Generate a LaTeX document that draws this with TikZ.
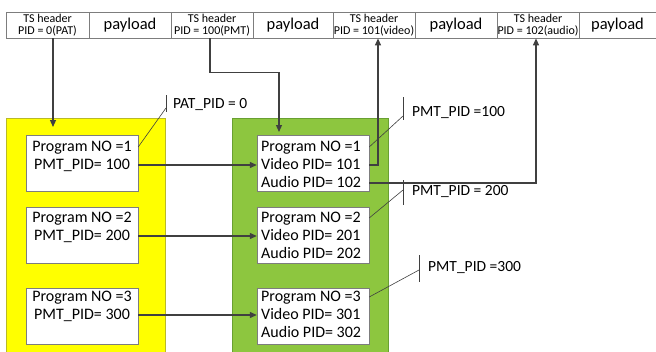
\documentclass[tikz,border=0pt]{standalone}
\usepackage{fontspec}
\setmainfont{Carlito}
\usepackage{xcolor}
\usepackage{tikz}
\usetikzlibrary{arrows.meta}

\definecolor{patyellow}{RGB}{255,255,0}
\definecolor{patedge}{RGB}{185,185,40}
\definecolor{pmtgreen}{RGB}{141,198,63}
\definecolor{pmtedge}{RGB}{105,160,50}
\definecolor{linegray}{RGB}{64,64,64}
\definecolor{cellgray}{RGB}{125,125,125}

\begin{document}
\begin{tikzpicture}[x=1pt,y=-1pt,
    cell/.style={draw=cellgray, thick, minimum height=26pt, inner sep=0pt, align=center},
    hdr/.style={font=\fontsize{12}{12}\selectfont},
    pay/.style={font=\fontsize{16.5}{18}\selectfont},
    inbox/.style={draw=cellgray, fill=white, minimum width=112pt, minimum height=56pt, inner sep=0pt},
    txt/.style={inner sep=0pt, text height=11pt, text depth=3pt, font=\fontsize{16}{18}\selectfont},
    tag/.style={inner sep=0pt, anchor=west, font=\fontsize{15.5}{17}\selectfont},
    link/.style={draw=linegray, line width=1.2pt, -{Triangle[length=7pt,width=6pt]}},
    note/.style={draw=black!75, line width=0.6pt}]
        \useasboundingbox (0,0) rectangle (656,351);

        % PAT and PMT tables
        \filldraw [fill=patyellow, draw=patedge, thick] (6,118) rectangle (165,360);
        \filldraw [fill=pmtgreen, draw=pmtedge, thick] (232,118) rectangle (388,360);

        % transport stream
        \node[cell, hdr, minimum width=83pt] (ts1) at (47.5,25) {TS header\\PID = 0(PAT)};
        \node[cell, pay, minimum width=82pt] (pl1) at (130,25) {payload};
        \node[cell, hdr, minimum width=82pt] (ts3) at (212,25) {TS header\\PID = 100(PMT)};
        \node[cell, pay, minimum width=80pt] (pl2) at (293,25) {payload};
        \node[cell, hdr, minimum width=82pt] (ts5) at (374,25) {TS header\\PID = 101(video)};
        \node[cell, pay, minimum width=82pt] (pl3) at (456,25) {payload};
        \node[cell, hdr, minimum width=82pt] (ts7) at (538,25) {TS header\\PID = 102(audio)};
        \node[cell, pay, minimum width=77pt] (pl4) at (617.5,25) {payload};

        % PAT entries
        \node[inbox] (pat1) at (82,163) {};
        \node[inbox] (pat2) at (82,235) {};
        \node[inbox] (pat3) at (82,316.5) {};
        \node[txt] (pat1a) at (82,147) {Program NO =1};
        \node[txt] (pat1b) at (82,165) {PMT\_PID= 100};
        \node[txt] (pat2a) at (82,218) {Program NO =2};
        \node[txt] (pat2b) at (82,236) {PMT\_PID= 200};
        \node[txt] (pat3a) at (82,297) {Program NO =3};
        \node[txt] (pat3b) at (82,315) {PMT\_PID= 300};

        % PMT entries
        \node[inbox] (pmt1) at (313,163) {};
        \node[inbox] (pmt2) at (313,235) {};
        \node[inbox] (pmt3) at (313,316.5) {};
        \node[txt, anchor=west] (pmt1a) at (261,147) {Program NO =1};
        \node[txt, anchor=west] (pmt1b) at (261,165) {Video PID= 101};
        \node[txt, anchor=west] (pmt1c) at (261,183) {Audio PID= 102};
        \node[txt, anchor=west] (pmt2a) at (261,218) {Program NO =2};
        \node[txt, anchor=west] (pmt2b) at (261,236) {Video PID= 201};
        \node[txt, anchor=west] (pmt2c) at (261,254) {Audio PID= 202};
        \node[txt, anchor=west] (pmt3a) at (261,297) {Program NO =3};
        \node[txt, anchor=west] (pmt3b) at (261,315) {Video PID= 301};
        \node[txt, anchor=west] (pmt3c) at (261,333) {Audio PID= 302};

        % callouts
        \node[tag] (patpid) at (173,105) {PAT\_PID = 0};
        \node[tag] (pmtpid1) at (412,113) {PMT\_PID =100};
        \node[tag] (pmtpid2) at (412,192) {PMT\_PID = 200};
        \node[tag] (pmtpid3) at (428,268) {PMT\_PID =300};

        \draw[note] ([xshift=-7pt,yshift=10pt]patpid.west) -- ([xshift=-7pt,yshift=-7pt]patpid.west);
        \draw[note] ([xshift=-7pt,yshift=-3pt]patpid.west) -- (pat1.east |- pat1a);
        \draw[note] ([xshift=-9pt,yshift=16pt]pmtpid1.west) -- ([xshift=-9pt,yshift=-7pt]pmtpid1.west);
        \draw[note] ([xshift=-9pt,yshift=-3pt]pmtpid1.west) -- (pmt1.east |- pmt1a);
        \draw[note] ([xshift=-9pt,yshift=12pt]pmtpid2.west) -- ([xshift=-9pt,yshift=-13pt]pmtpid2.west);
        \draw[note] ([xshift=-9pt,yshift=2pt]pmtpid2.west) -- (pmt2.east |- pmt2a);
        \draw[note] ([xshift=-9pt,yshift=13pt]pmtpid3.west) -- ([xshift=-9pt,yshift=-14pt]pmtpid3.west);
        \draw[note] ([xshift=-9pt,yshift=-2pt]pmtpid3.west) -- (pmt3.east |- pmt3a);

        % links
        \coordinate (patin) at (53,127);
        \coordinate (pmtin) at (279,132);
        \draw[link] (ts1.south -| patin) -- (patin);
        \draw[link] ([xshift=-2pt]ts3.south) -- ++(0,34) -| (pmtin);
        \draw[link] (pat1.east |- pat1b) -- (pmt1.west |- pmt1b);
        \draw[link] (pat2.east |- pat2b) -- (pmt2.west |- pmt2b);
        \draw[link] (pat3.east |- pat3b) -- (pmt3.west |- pmt3b);
        \draw[link] (pmt1.east |- pmt1b) -| ([xshift=4pt]ts5.south);
        \draw[link] (pmt1.east |- pmt1c) -| ([xshift=-2pt]ts7.south);
    \end{tikzpicture}
\end{document}
